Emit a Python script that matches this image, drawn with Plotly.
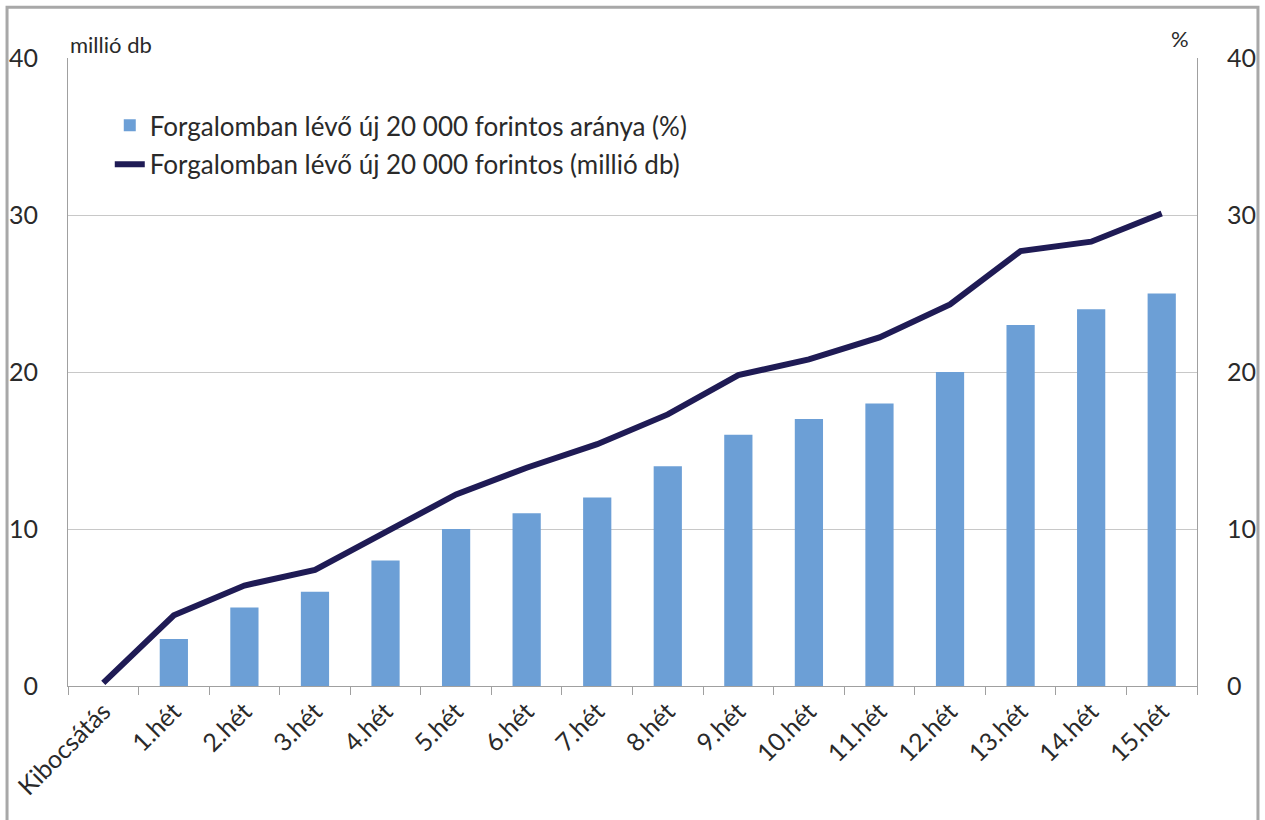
import plotly.graph_objs as go

# categories and series
weeks = ['Kibocsátás', '1.hét', '2.hét', '3.hét', '4.hét', '5.hét', '6.hét', '7.hét',
         '8.hét', '9.hét', '10.hét', '11.hét', '12.hét', '13.hét', '14.hét', '15.hét']
share_pct = [0, 3, 5, 6, 8, 10, 11, 12, 14, 16, 17, 18, 20, 23, 24, 25]
million_pcs = [0.2, 4.5, 6.4, 7.4, 9.8, 12.2, 13.9, 15.4, 17.3, 19.8, 20.8, 22.2, 24.3, 27.7, 28.3, 30.1]
y_ticks = [0, 10, 20, 30, 40]

bar_color = '#6c9fd6'
line_color = '#1f1b55'
grid_color = '#c8c8c8'
font_family = 'Lato, Open Sans, sans-serif'

fig = go.Figure()

fig.add_trace(go.Bar(x=weeks, y=share_pct, name='Forgalomban lévő új 20 000 forintos aránya (%)',
                     marker=dict(color=bar_color, line=dict(width=0)), yaxis='y2',
                     legendgroup='bars'))

fig.add_trace(go.Scatter(x=weeks, y=million_pcs, mode='lines',
                         name='Forgalomban lévő új 20 000 forintos (millió db)',
                         line=dict(color=line_color, width=6), yaxis='y',
                         legendgroup='line'))

fig.update_layout(
    width=1265, height=820,
    margin=dict(l=68, r=68, t=58, b=134, autoexpand=False),
    paper_bgcolor='white', plot_bgcolor='white',
    font=dict(family=font_family, size=20, color='#2a2a2a'),
    bargap=0.6,
    showlegend=True,
    legend=dict(x=0.037, y=0.93, xanchor='left', yanchor='top', bgcolor='rgba(255,255,255,0)',
                font=dict(size=26, color='#2a2a2a'), traceorder='grouped', tracegroupgap=2),
    xaxis=dict(type='category', tickangle=-45, tickfont=dict(size=25), automargin=False,
               showline=True, linecolor='#a0a0a0', linewidth=1,
               ticks='outside', tickson='boundaries', ticklen=8, tickcolor='#a0a0a0',
               showgrid=False, mirror=False),
    yaxis=dict(range=[0, 40], tickvals=y_ticks, showgrid=True, gridcolor=grid_color, gridwidth=1,
               showline=True, linecolor='#a0a0a0', linewidth=1, zeroline=False, automargin=False,
               tickfont=dict(size=25), ticks='', ticklabelstandoff=24),
    yaxis2=dict(range=[0, 40], tickvals=y_ticks, overlaying='y', side='right', showgrid=False,
                showline=True, linecolor='#a0a0a0', linewidth=1, zeroline=False, automargin=False,
                tickfont=dict(size=25), ticks='', ticklabelstandoff=24),
    annotations=[
        dict(text='millió db', xref='paper', yref='paper', x=0.0, y=1.0, xanchor='left', yanchor='bottom',
             yshift=-2, showarrow=False, font=dict(size=22)),
        dict(text='%', xref='paper', yref='paper', x=0.995, y=1.0, xanchor='right', yanchor='bottom',
             yshift=4, showarrow=False, font=dict(size=22)),
    ],
    shapes=[
        # outer frame of the picture (bottom edge runs off the image)
        dict(type='rect', xref='paper', yref='paper', x0=-0.054, x1=1.054, y0=-0.23, y1=1.081,
             line=dict(color='#a8a8a8', width=3)),
    ],
)

# drop the default page margin so the figure fills the window exactly
fig.write_html('out.html', config={'displayModeBar': False},
               post_script="document.body.style.margin='0px';")
